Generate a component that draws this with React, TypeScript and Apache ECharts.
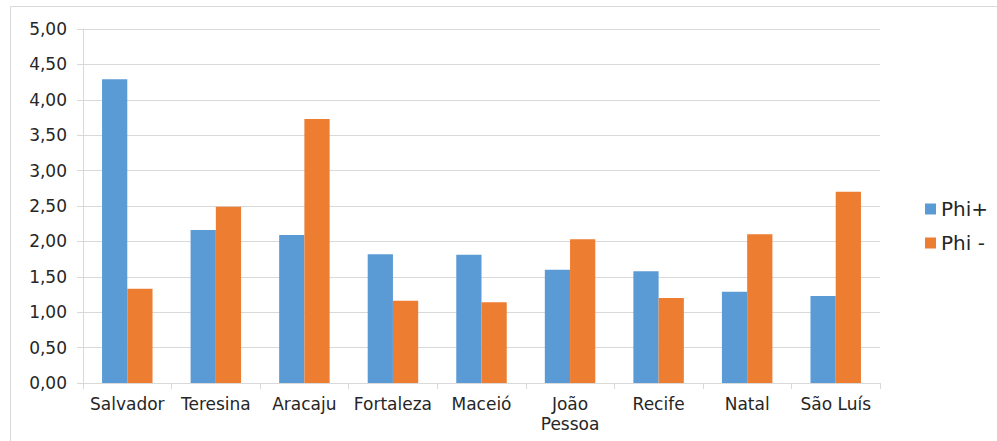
import React, { useEffect, useRef } from "react";
import * as echarts from "echarts";

const categories = ["Salvador", "Teresina", "Aracaju", "Fortaleza", "Maceió", "João\nPessoa", "Recife", "Natal", "São Luís"];
const phiPlus = [4.29, 2.16, 2.09, 1.82, 1.81, 1.60, 1.58, 1.29, 1.23];
const phiMinus = [1.33, 2.49, 3.73, 1.16, 1.14, 2.03, 1.20, 2.10, 2.70];
const seriesNames = ["Phi+", "Phi -"];

export default function App() {
  const ref = useRef<HTMLDivElement>(null);
  useEffect(() => {
    if (!ref.current) return;
    const chart = echarts.init(ref.current, null, { renderer: "svg" });
    const font = "'DejaVu Sans', sans-serif";
    chart.setOption({
      animation: false,
      textStyle: { fontFamily: font },
      graphic: [
        { type: "line", shape: { x1: 10.5, y1: 6.5, x2: 997, y2: 6.5 }, style: { stroke: "#d9d9d9", lineWidth: 1 } },
        { type: "line", shape: { x1: 10.5, y1: 6.5, x2: 10.5, y2: 441 }, style: { stroke: "#d9d9d9", lineWidth: 1 } },
      ],
      grid: { left: 83, right: 117, top: 29, bottom: 58, containLabel: false },
      legend: {
        orient: "vertical",
        left: 920,
        top: 194,
        itemWidth: 11,
        itemHeight: 11,
        itemGap: 14,
        icon: "rect",
        textStyle: { fontSize: 20, color: "#262626", fontFamily: font },
        data: seriesNames,
      },
      xAxis: {
        type: "category",
        data: categories,
        axisLine: { lineStyle: { color: "#d9d9d9" } },
        axisTick: { show: true, length: 6, lineStyle: { color: "#d9d9d9" } },
        axisLabel: { fontSize: 17, color: "#262626", margin: 11, lineHeight: 20, fontFamily: font, interval: 0 },
      },
      yAxis: {
        type: "value",
        min: 0,
        max: 5,
        interval: 0.5,
        axisLine: { show: true, lineStyle: { color: "#d9d9d9" } },
        axisTick: { show: true, length: 6, lineStyle: { color: "#d9d9d9" } },
        splitLine: { lineStyle: { color: "#d9d9d9" } },
        axisLabel: {
          fontSize: 17,
          color: "#262626",
          margin: 16,
          fontFamily: font,
          formatter: (v: number) => v.toFixed(2).replace(".", ","),
        },
      },
      series: [
        { name: seriesNames[0], type: "bar", data: phiPlus, barGap: "0%", barCategoryGap: "43%", itemStyle: { color: "#5b9bd5" } },
        { name: seriesNames[1], type: "bar", data: phiMinus, barGap: "0%", barCategoryGap: "43%", itemStyle: { color: "#ed7d31" } },
      ],
    });
    return () => chart.dispose();
  }, []);
  return <div ref={ref} style={{ width: 997, height: 441, position: "absolute", left: 0, top: 0 }} />;
}
